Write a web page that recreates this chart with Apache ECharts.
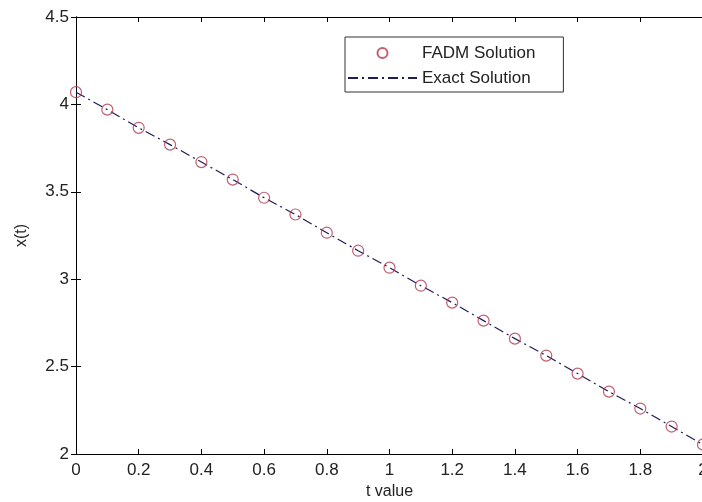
<!DOCTYPE html>
<html>
<head>
<meta charset="utf-8">
<script src="https://cdn.jsdelivr.net/npm/echarts@6/dist/echarts.min.js"></script>
<style>html,body{margin:0;padding:0;background:#fff}#c{width:702px;height:502px}</style>
</head>
<body>
<div id="c"></div>
<script>
var tValues = [0, 0.1, 0.2, 0.3, 0.4, 0.5, 0.6, 0.7, 0.8, 0.9, 1.0, 1.1, 1.2, 1.3, 1.4, 1.5, 1.6, 1.7, 1.8, 1.9, 2.0];
var fadmValues = [4.07, 3.97, 3.866, 3.77, 3.67, 3.57, 3.466, 3.37, 3.266, 3.163, 3.066, 2.963, 2.866, 2.763, 2.66, 2.563, 2.46, 2.357, 2.26, 2.157, 2.054];
var exactValues = [4.07, 3.97, 3.866, 3.77, 3.67, 3.57, 3.466, 3.37, 3.266, 3.163, 3.066, 2.963, 2.866, 2.763, 2.66, 2.563, 2.46, 2.357, 2.26, 2.157, 2.054];
var seriesNames = ['FADM Solution', 'Exact Solution'];
var xTitle = 't value';
var yTitle = 'x(t)';

function pairs(xs, ys) { return xs.map(function (x, i) { return [x, ys[i]]; }); }

var chart = echarts.init(document.getElementById('c'), null, {renderer: 'canvas'});
var font = 'Liberation Sans, Arial, sans-serif';
var axisCommon = {
  type: 'value',
  axisLine: {show: true, lineStyle: {color: '#000', width: 1}},
  axisTick: {show: true, inside: true, length: 5, lineStyle: {color: '#000'}},
  splitLine: {show: false}
};
chart.setOption({
  animation: false,
  backgroundColor: '#fff',
  grid: {left: 76, top: 17, width: 627, height: 437, containLabel: false, outerBoundsMode: 'none'},
  legend: {
    orient: 'vertical',
    left: 345, top: 37,
    padding: [6, 28, 4, 2],
    itemGap: 5,
    itemWidth: 69, itemHeight: 10,
    borderColor: '#333', borderWidth: 1,
    backgroundColor: '#fff',
    textStyle: {fontFamily: font, fontSize: 17, color: '#222', lineHeight: 20},
    data: [
      {name: seriesNames[0], icon: 'circle'},
      {name: seriesNames[1], itemStyle: {opacity: 0}}
    ]
  },
  xAxis: [
    Object.assign({}, axisCommon, {
      min: 0, max: 2, interval: 0.2, position: 'bottom',
      name: xTitle, nameLocation: 'middle', nameGap: 28,
      nameTextStyle: {fontFamily: font, fontSize: 16, color: '#222'},
      axisLabel: {fontFamily: font, fontSize: 17, color: '#222', margin: 8}
    }),
    Object.assign({}, axisCommon, {
      min: 0, max: 2, interval: 0.2, position: 'top',
      axisLabel: {show: false}
    })
  ],
  yAxis: [
    Object.assign({}, axisCommon, {
      min: 2, max: 4.5, interval: 0.5, position: 'left',
      name: yTitle, nameLocation: 'middle', nameGap: 46, nameRotate: 90,
      nameTextStyle: {fontFamily: font, fontSize: 16, color: '#222'},
      axisLabel: {fontFamily: font, fontSize: 17, color: '#222', margin: 7}
    }),
    Object.assign({}, axisCommon, {
      min: 2, max: 4.5, interval: 0.5, position: 'right',
      axisLabel: {show: false}
    })
  ],
  series: [
    {
      name: seriesNames[1], type: 'line', xAxisIndex: 0, yAxisIndex: 0,
      data: pairs(tValues, exactValues),
      showSymbol: false, symbol: 'none',
      lineStyle: {color: '#1c1c5a', width: 1.2, type: [10, 4, 2, 4]},
      itemStyle: {color: '#1c1c5a'},
      z: 2
    },
    {
      name: seriesNames[0], type: 'scatter', xAxisIndex: 0, yAxisIndex: 0,
      data: pairs(tValues, fadmValues),
      symbol: 'circle', symbolSize: 11,
      itemStyle: {color: 'rgba(0,0,0,0)', borderColor: '#b0384e', borderWidth: 1.2},
      z: 3
    }
  ]
});
</script>
</body>
</html>
